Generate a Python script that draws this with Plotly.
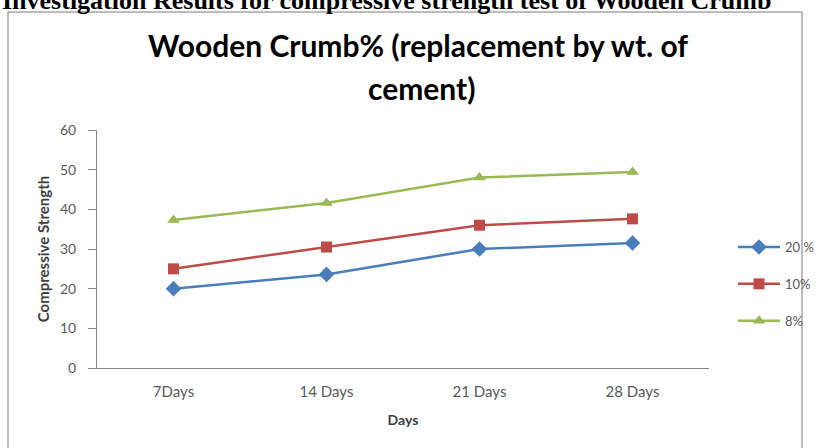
import plotly.graph_objects as go

categories = ["7Days", "14 Days", "21 Days", "28 Days"]
series_names = ["20 %", "10%", "8%"]
s20 = [20.0, 23.6, 30.0, 31.5]
s10 = [25.0, 30.5, 36.0, 37.6]
s8 = [37.3, 41.6, 48.0, 49.4]
y_ticks = [0, 10, 20, 30, 40, 50, 60]

colors = ["#4A7EBB", "#BE4B48", "#98B954"]
symbols = ["diamond", "square", "triangle-up"]
values = [s20, s10, s8]

W, H = 821, 448
L, R, T, B = 97, 709, 130, 368

def px(x):
    return (x - L) / (R - L)

def py(y):
    return (B - y) / (B - T)

fig = go.Figure()
for name, vals, c, s in zip(series_names, values, colors, symbols):
    fig.add_trace(go.Scatter(
        x=categories, y=vals, name=name, mode="lines+markers",
        legendgroup=name,
        line=dict(color=c, width=2.5),
        marker=dict(symbol=s, size=11 if s != "diamond" else 12, color=c),
    ))

fig.update_layout(
    width=W, height=H,
    margin=dict(l=L, r=W - R, t=T, b=H - B, autoexpand=False),
    paper_bgcolor="white", plot_bgcolor="white",
    font=dict(family="Lato, Open Sans, sans-serif", color="#595959", size=14),
    showlegend=True,
    legend=dict(x=px(733), y=py(232), xanchor="left", yanchor="top",
                tracegroupgap=17, itemwidth=42, font=dict(size=13, color="#595959"),
                bgcolor="rgba(0,0,0,0)"),
    xaxis=dict(
        type="category", range=[-0.5, 3.5],
        showline=True, linecolor="#868686", linewidth=1,
        showgrid=False, ticks="", tickfont=dict(size=15, color="#595959"),
        ticklabelstandoff=10,
        title=dict(text="<b>Days</b>", font=dict(size=14, color="#404040"), standoff=16),
    ),
    yaxis=dict(
        range=[0, 60], tickvals=y_ticks,
        showline=True, linecolor="#868686", linewidth=1,
        showgrid=False, ticks="outside", ticklen=8, tickcolor="#868686",
        ticklabelstandoff=9,
        tickfont=dict(size=14, color="#595959"),
        title=dict(text="<b>Compressive Strength</b>", font=dict(size=15, color="#404040"), standoff=6),
        zeroline=False,
    ),
)

# chart frame
fig.add_shape(type="rect", xref="paper", yref="paper",
              x0=px(8), x1=px(802), y0=py(452), y1=py(12),
              line=dict(color="#A6A6A6", width=1.5), fillcolor="rgba(0,0,0,0)", layer="below")

# chart title (two lines)
title_font = dict(family="Lato, Open Sans, sans-serif", size=30, color="#000000")
fig.add_annotation(xref="paper", yref="paper", x=px(418), y=py(45), xanchor="center", yanchor="middle",
                   text="<b>Wooden Crumb% (replacement by wt. of</b>", showarrow=False, font=title_font)
fig.add_annotation(xref="paper", yref="paper", x=px(421), y=py(88), xanchor="center", yanchor="middle",
                   text="<b>cement)</b>", showarrow=False, font=title_font)

# cut-off document caption above the chart
fig.add_annotation(xref="paper", yref="paper", x=px(386), y=py(17), xanchor="center", yanchor="bottom",
                   text="<b>Investigation Results for compressive strength test of Wooden Crumb</b>",
                   showarrow=False,
                   font=dict(family="Liberation Serif, Times New Roman, serif", size=26, color="#000000"))

fig.write_html("out.html", config={"displayModeBar": False},
               post_script="document.body.style.margin='0';")
